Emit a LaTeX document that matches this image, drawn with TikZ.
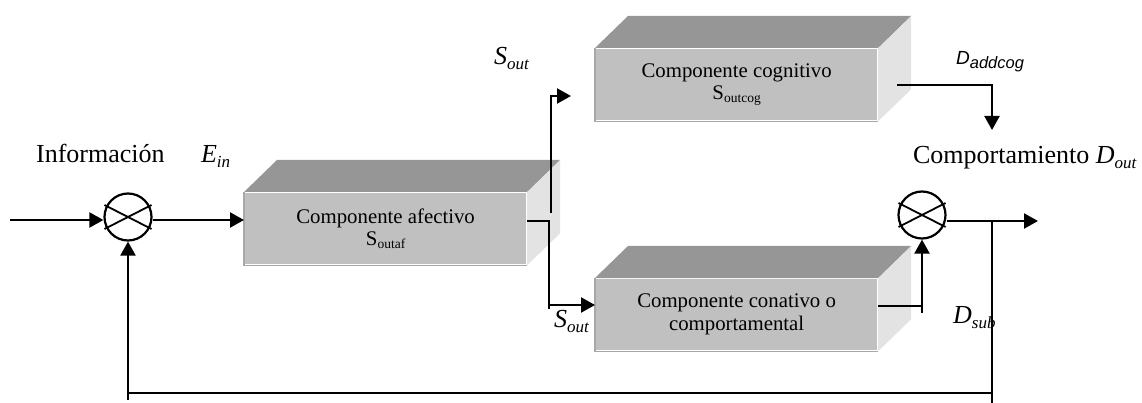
\documentclass[tikz,border=0pt]{standalone}
\usepackage{fontspec}
\setmainfont{Liberation Serif}
\newfontfamily\arialf{Liberation Sans}
\usetikzlibrary{arrows.meta}
\definecolor{topc}{HTML}{969696}
\definecolor{frontc}{HTML}{C0C0C0}
\definecolor{sidec}{HTML}{E3E3E3}
\definecolor{edgec}{HTML}{A8A8A8}
\newcommand\lbl[2]{#1\raisebox{-5pt}{\fontsize{17}{17}\selectfont #2}}
\newcommand\bsub[2]{#1\raisebox{-3pt}{\fontsize{13.5}{14}\selectfont #2}}
\newcommand\blockbox[3]{%
  \node[front] (#1) at (#2) {#3};
  \fill[topc] (#1.north west) -- ++(33,-32) -- ([shift={(33,-32)}]#1.north east) -- (#1.north east) -- cycle;
  \fill[sidec] (#1.north east) -- ++(33,-32) -- ([shift={(33,-32)}]#1.south east) -- (#1.south east) -- cycle;
  \draw[edgec, line width=1.2pt] (#1.north west) -- (#1.south west) -- (#1.south east);
}
\begin{document}
\begin{tikzpicture}[x=1pt,y=-1pt, line width=2.2pt,
  arr/.style={-{Triangle[length=14pt,width=15pt]}},
  front/.style={fill=frontc, minimum width=281pt, minimum height=71pt, inner sep=0pt,
    align=center, font=\fontsize{20.8}{23}\selectfont, anchor=north west},
  sumnode/.style={circle, draw, minimum size=47pt, inner sep=0pt, line width=2.2pt},
  lab/.style={font=\fontsize{26}{30}\selectfont, inner sep=0pt, anchor=base west}]
\useasboundingbox (0,0) rectangle (1142,403);

% blocks
\blockbox{af}{244,192}{Componente afectivo\\[-1pt]\bsub{S}{outaf}}
\blockbox{cg}{595,48}{Componente cognitivo\\[-1pt]\bsub{S}{outcog}}
\blockbox{cn}{595,278}{Componente conativo o\\comportamental}

% summing junctions
\node[sumnode] (c1) at (128,217) {};
\node[sumnode] (c2) at (922,215) {};
\foreach \c in {c1,c2}{
  \draw[line width=1.8pt] ([shift={(-23.5,-12)}]\c.center) -- ([shift={(23.5,12)}]\c.center);
  \draw[line width=1.8pt] ([shift={(-23.5,12)}]\c.center) -- ([shift={(23.5,-12)}]\c.center);
}

% coordinates
\coordinate (in) at (10,220);
\coordinate (j1) at (549,221);
\coordinate (j2) at (549,305);
\coordinate (j2b) at (549,309);
\coordinate (u1) at (551,213);
\coordinate (u2) at (551,96);
\coordinate (u3) at (571,96);
\coordinate (g1) at (897,85);
\coordinate (g2) at (992,85);
\coordinate (g3) at (992,130);
\coordinate (k1) at (922,306);
\coordinate (k2) at (922,313);
\coordinate (out) at (1038,221);
\coordinate (f1) at (992,221);
\coordinate (f2) at (992,403);
\coordinate (f3) at (992,393);
\coordinate (f4) at (128,393);
\coordinate (f5) at (128,400);

% connectors
\draw[arr] (in) -- (in -| c1.west);
\draw[arr] (c1.east |- in) -- (in -| af.west);
\draw (af.east |- j1) -- (j1) -- (j2b);
\draw[arr] (j2) -- (j2 -| cn.west);
\draw[arr] (u1) -- (u2) -- (u3);
\draw[arr] (g1) -- (g2) -- (g3);
\draw (cn.east |- k1) -- (k1);
\draw[arr] (k2) -- (c2.south);
\draw[arr] (c2.east |- out) -- (out);
\draw (f1) -- (f2);
\draw (f3) -- (f4);
\draw[arr] (f5) -- (c1.south);

% labels
\node[lab] (info) at (35,163) {Información};
\node[lab] (ein) at (200,163) {\lbl{\textit{E}}{\textit{in}}};
\node[lab] (sout1) at (493,65) {\lbl{\textit{S}}{\textit{out}}};
\node[lab] (sout2) at (553,327) {\lbl{\textit{S}}{\textit{out}}};
\node[lab] (comp) at (912,164) {Comportamiento \lbl{\textit{D}}{\textit{out}}};
\node[lab] (dsub) at (952,323) {\lbl{\textit{D}}{\textit{sub}}};
\node[inner sep=0pt, anchor=base west, font=\arialf\itshape\fontsize{19}{21}\selectfont] (dadd) at (955,65)
  {D\raisebox{-4pt}{\fontsize{16.5}{17}\selectfont addcog}};
\end{tikzpicture}
\end{document}
